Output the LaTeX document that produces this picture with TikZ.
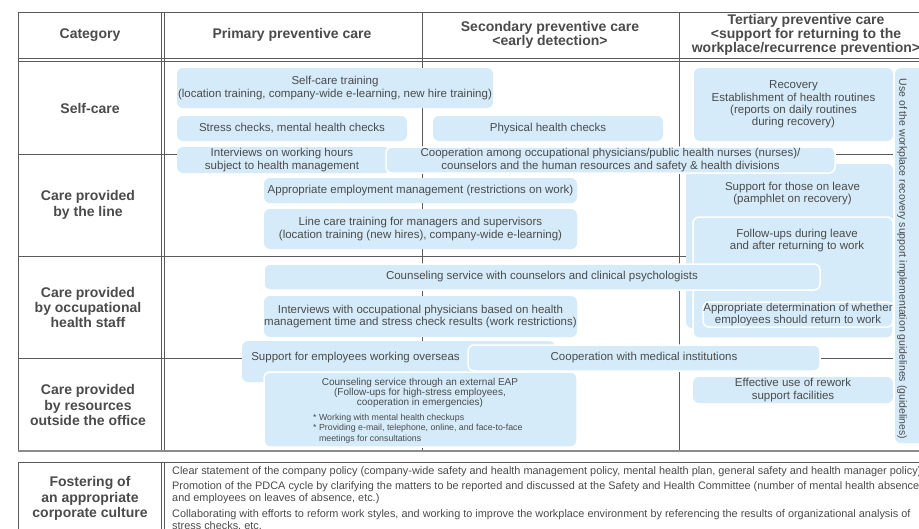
\documentclass[tikz,border=0pt]{standalone}
\usepackage{fontspec}
\setmainfont{Liberation Sans}
\definecolor{BoxBlue}{RGB}{213,235,249}
\definecolor{InkGray}{RGB}{75,75,75}
\definecolor{RuleGray}{RGB}{90,90,90}

\begin{document}
\begin{tikzpicture}[x=1pt, y=-1pt,
    every node/.style={text=InkGray},
    rule/.style={RuleGray, line width=0.8pt},
    box/.style={fill=BoxBlue, rounded corners=6pt, inner sep=0pt, align=center, font=\fontsize{11.5}{12.3}\selectfont},
    wbox/.style={box, draw=white, line width=1.5pt},
    boxtext/.style={align=center, inner sep=0pt, font=\fontsize{11.5}{12.3}\selectfont},
    head/.style={align=center, font=\fontsize{14}{14}\selectfont\bfseries},
    cat/.style={align=center, font=\fontsize{14}{15.3}\selectfont\bfseries},
    note/.style={anchor=west, align=left, inner sep=0pt, font=\fontsize{10.9}{12}\selectfont}]
  \useasboundingbox (0,0) rectangle (919,528);
  \clip (0,0) rectangle (919,528);
  \fill[white] (0,0) rectangle (919,528);

  % table rules
  \draw[rule] (18,12) -- (940,12);
  \draw[rule] (18,12) -- (18,451);
  \draw[rule] (161,12) -- (161,451);
  \draw[rule] (164,12) -- (164,451);
  \draw[rule] (422,12) -- (422,451);
  \draw[rule] (679,12) -- (679,451);
  \draw[rule] (18,58) -- (940,58);
  \draw[rule] (18,61) -- (940,61);
  \foreach \y in {154,256.5,358}
    \draw[rule] (18,\y) -- (893,\y);
  \draw[RuleGray!70, line width=1.6pt] (18,451) -- (940,451);

  % headings
  \node[head] (hcat) at (90,35) {Category};
  \node[head] (hprim) at (292,35) {Primary preventive care};
  \node[head] (hsec) at (550,34.5) {Secondary preventive care\\<early detection>};
  \node[head, font=\fontsize{14}{12}\selectfont\bfseries] (hter) at (806,35) {Tertiary preventive care\\<support for returning to the\\workplace/recurrence prevention>};

  \node[cat] (cself) at (90,108) {Self-care};
  \node[cat] (cline) at (88,205) {Care provided\\by the line};
  \node[cat] (cstaff) at (88,307.5) {Care provided\\by occupational\\health staff};
  \node[cat] (cout) at (88,405) {Care provided\\by resources\\outside the office};

  % care boxes
  \node[box, minimum width=316pt, minimum height=40pt] (selftrain) at (335,88) {Self-care training\\(location training, company-wide e-learning, new hire training)};
  \node[box, minimum width=230pt, minimum height=25pt] (stress) at (292,128.5) {Stress checks, mental health checks};
  \node[box, minimum width=230pt, minimum height=25pt] (physical) at (548,128.5) {Physical health checks};
  \node[box, minimum width=207pt, minimum height=164pt] (leave) at (789.5,246) {};
  \node[boxtext] (leavetxt) at (792.5,193.7) {Support for those on leave\\(pamphlet on recovery)};
  \node[wbox, minimum width=200pt, minimum height=121pt] (followup) at (793,277.5) {};
  \node[boxtext] (followtxt) at (797,240.3) {Follow-ups during leave\\and after returning to work};
  \node[box, minimum width=213pt, minimum height=26pt] (hours) at (283.5,160) {};
  \node[boxtext] (hourstxt) at (282,160) {Interviews on working hours\\subject to health management};
  \node[wbox, minimum width=449pt, minimum height=26pt] (coop) at (610.5,160) {Cooperation among occupational physicians/public health nurses (nurses)/\\counselors and the human resources and safety \& health divisions};
  \node[box, minimum width=313pt, minimum height=25pt] (employ) at (420.5,190.5) {Appropriate employment management (restrictions on work)};
  \node[box, minimum width=313pt, minimum height=40pt] (linecare) at (420.5,229) {Line care training for managers and supervisors\\(location training (new hires), company-wide e-learning)};
  \node[wbox, minimum width=556pt, minimum height=26pt] (counsel) at (542,277) {Counseling service with counselors and clinical psychologists};
  \node[wbox, minimum width=190pt, minimum height=25pt] (decide) at (798,314.5) {Appropriate determination of whether\\employees should return to work};
  \node[box, minimum width=313pt, minimum height=41pt] (interview) at (420.5,316.5) {Interviews with occupational physicians based on health\\management time and stress check results (work restrictions)};
  \node[box, minimum width=313pt, minimum height=41pt] (overseas) at (398.5,361.5) {};
  \node[boxtext] (overseastxt) at (355.5,358) {Support for employees working overseas};
  \node[wbox, minimum width=352pt, minimum height=26pt] (medical) at (644,358) {Cooperation with medical institutions};
  \node[wbox, minimum width=313pt, minimum height=75pt] (eap) at (420.5,409.5) {};
  \node[boxtext, font=\fontsize{10}{10.3}\selectfont] (eaptxt) at (420,393) {Counseling service through an external EAP\\(Follow-ups for high-stress employees,\\cooperation in emergencies)};
  \node[note, font=\fontsize{8.8}{10.6}\selectfont] (eapnote) at (313,428.5) {* Working with mental health checkups\\* Providing e-mail, telephone, online, and face-to-face\\\phantom{* }meetings for consultations};
  \node[box, minimum width=199pt, minimum height=73pt] (recovery) at (793.5,104.5) {Recovery\\Establishment of health routines\\(reports on daily routines\\during recovery)};
  \node[box, minimum width=200pt, minimum height=26pt] (rework) at (793,390) {Effective use of rework\\support facilities};
  \node[box, minimum width=40pt, minimum height=375pt] (guide) at (915,255.5) {};
  \node[boxtext, rotate=-90, font=\fontsize{10.5}{10.5}\selectfont] (guidetxt) at (902,259) {Use of the workplace recovery support implementation guidelines (guidelines)};

  % corporate culture
  \draw[rule] (18,462) -- (940,462);
  \draw[rule] (18,462) -- (18,540);
  \draw[rule] (161,462) -- (161,540);
  \draw[rule] (164,462) -- (164,540);
  \node[cat] (foster) at (90,498.5) {Fostering of\\an appropriate\\corporate culture};
  \node[note] (policy) at (172,472) {Clear statement of the company policy (company-wide safety and health management policy, mental health plan, general safety and health manager policy)};
  \node[note] (pdca) at (172,493) {Promotion of the PDCA cycle by clarifying the matters to be reported and discussed at the Safety and Health Committee (number of mental health absences\\and employees on leaves of absence, etc.)};
  \node[note] (reform) at (172,520) {Collaborating with efforts to reform work styles, and working to improve the workplace environment by referencing the results of organizational analysis of\\stress checks, etc.};
\end{tikzpicture}
\end{document}
